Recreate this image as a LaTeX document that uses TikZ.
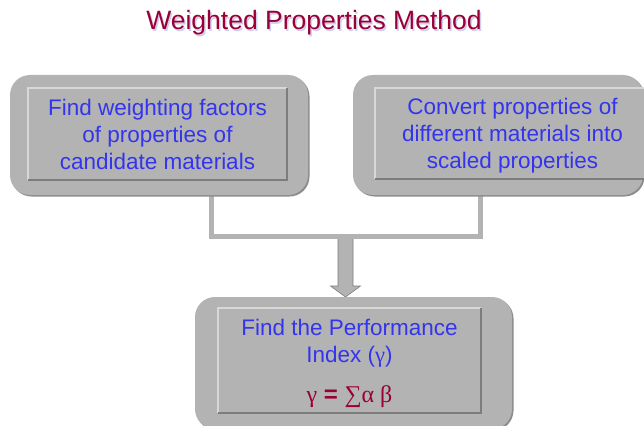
\documentclass[tikz,border=0pt]{standalone}
\usepackage{fontspec}
\setmainfont{Liberation Sans}
\newfontfamily\grkfont{Liberation Serif}
\usetikzlibrary{calc}
\usetikzlibrary{shadows}
\usetikzlibrary{backgrounds}

\definecolor{boxgray}{HTML}{B3B3B3}
\definecolor{edgedark}{HTML}{7D7D7D}
\definecolor{edgelight}{HTML}{D8D8D8}
\definecolor{shadegray}{HTML}{8C8C8C}
\definecolor{textblue}{HTML}{3434EE}
\definecolor{titlered}{HTML}{990033}

\newcommand\toppad[1]{\rule{0pt}{#1}}

\begin{document}
\begin{tikzpicture}[
    x=1pt, y=-1pt,
    outerbox/.style={rectangle,rounded corners=20pt,fill=boxgray,inner sep=0pt,outer sep=0pt,
        drop shadow={shadow xshift=1.5pt,shadow yshift=-1.5pt,fill=shadegray,opacity=1}},
    textbox/.style={rectangle,fill=boxgray,inner sep=0pt,outer sep=0pt,align=center,
        text=textblue,font=\fontsize{22.5}{27}\selectfont},
    bevellight/.style={draw=edgelight,line width=1.1pt},
    beveldark/.style={draw=edgedark,line width=1.1pt},
    bar/.style={line width=5pt,draw=boxgray},
    barlight/.style={line width=5pt,draw=edgelight,shift={(-1,-1)}},
    bardark/.style={line width=5pt,draw=edgedark,shift={(1.3,1.3)}},
    fatarrow/.style={fill=boxgray,draw=edgedark,line width=0.6pt,line join=miter}
]
\useasboundingbox (0,0) rectangle (644,425);

% title
\node[text=gray!45!blue!25,font=\fontsize{26.5}{30}\selectfont] (titleshade) at (315.5,24.5) {Weighted Properties Method};
\node[text=titlered,font=\fontsize{26.5}{30}\selectfont] (title) at (314,23) {Weighted Properties Method};

% boxes
\node[outerbox,minimum width=298pt,minimum height=120pt] (weights) at (159,135) {};
\node[textbox,minimum width=259pt,minimum height=92pt] (weightsTxt) at (157.5,134)
    {Find weighting factors\\of properties of\\candidate materials};

\node[outerbox,minimum width=290pt,minimum height=120pt] (scaled) at (498,135) {};
\node[textbox,minimum width=275pt,minimum height=91pt] (scaledTxt) at (512.5,133.5)
    {\toppad{20.5pt}Convert properties of\\different materials into\\scaled properties};

\node[outerbox,minimum width=317pt,minimum height=132pt] (perf) at (353.5,363) {};
\node[textbox,minimum width=263pt,minimum height=105pt] (perfTxt) at (349.5,360.5)
    {\toppad{22.5pt}Find the Performance\\Index ({\grkfont γ})\\[13pt]
     {\color{titlered}\fontsize{24}{27}\selectfont{\grkfont γ} \textbf{=} {\grkfont ∑α β}}};

% bevel edges
\draw[bevellight] (weightsTxt.south west) |- (weightsTxt.north east);
\draw[beveldark] (weightsTxt.south west) -| (weightsTxt.north east);
\draw[bevellight] (scaledTxt.south west) |- (scaledTxt.north east);
\draw[beveldark] (scaledTxt.south west) -| (scaledTxt.north east);
\draw[bevellight] (perfTxt.south west) |- (perfTxt.north east);
\draw[beveldark] (perfTxt.south west) -| (perfTxt.north east);

% connectors
\coordinate (joinL) at (211,236);
\coordinate (joinR) at (480,236);
\path (joinL) -- (joinR) coordinate[midway] (joinM);
\coordinate (tip) at (perf.north -| joinM);

\begin{scope}[on background layer]
\fill[fatarrow] ($(joinM)+(-7.5,0)$) -- ($(tip)+(-7.5,-11)$) -- ($(tip)+(-15,-11)$) -- (tip)
    -- ($(tip)+(15,-11)$) -- ($(tip)+(7.5,-11)$) -- ($(joinM)+(7.5,0)$) -- cycle;
\draw[bardark] (weights.south -| joinL) -- (joinL) -- (joinR) -- (scaled.south -| joinR);
\draw[barlight] (weights.south -| joinL) -- (joinL) -- (joinR) -- (scaled.south -| joinR);
\draw[bar] (weights.south -| joinL) -- (joinL) -- (joinR) -- (scaled.south -| joinR);
\end{scope}
\end{tikzpicture}
\end{document}
